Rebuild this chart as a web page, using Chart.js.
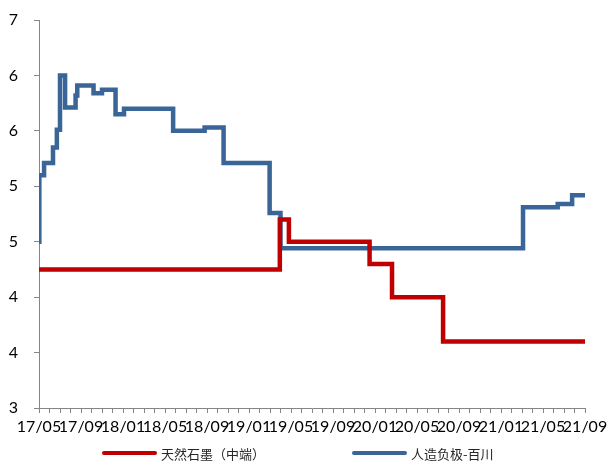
<!DOCTYPE html>
<html>
<head>
<meta charset="utf-8">
<script src="https://cdn.jsdelivr.net/npm/chart.js@4"></script>
<style>
body{margin:0;background:#fff;}
#wrap{position:relative;width:607px;height:461px;}
#legend{position:absolute;left:0;top:443px;width:607px;height:20px;font-family:"Noto Sans CJK SC",sans-serif;font-size:13px;color:#262626;}
.item{position:absolute;top:0;display:flex;align-items:center;height:20px;white-space:nowrap;}
.swatch{width:55px;height:4px;margin-right:4px;border-radius:2px;}
.fw{display:inline-block;width:13px;}
.fw.l{text-align:right;}
.fw.r{text-align:left;}
</style>
</head>
<body>
<div id="wrap">
<canvas id="chart" width="607" height="461"></canvas>
<div id="legend">
  <div class="item" style="left:102px"><span class="swatch" style="background:#C00000"></span><span>天然石墨<span class="fw l">（</span>中端<span class="fw r">）</span></span></div>
  <div class="item" style="left:352px"><span class="swatch" style="background:#3A6597"></span><span>人造负极-百川</span></div>
</div>
</div>
<script>
// ================= DATA =================
const xTickLabels = ['17/05','17/09','18/01','18/05','18/09','19/01','19/05','19/09','20/01','20/05','20/09','21/01','21/05','21/09'];

// 天然石墨（中端）: change dates and new price
const redDates = ['2017-05-01','2019-03-30','2019-04-25','2019-12-16','2020-02-19','2020-07-16','2021-09-01'];
const redValues = [4.25, 4.7, 4.5, 4.3, 4.0, 3.6, 3.6];

// 人造负极-百川
const blueDates = ['2017-05-01','2017-05-02','2017-05-16','2017-06-11','2017-06-22','2017-07-01','2017-07-16',
  '2017-08-16','2017-08-21','2017-10-07','2017-11-01','2017-12-10','2018-01-04','2018-05-25','2018-08-25',
  '2018-10-19','2019-02-28','2019-04-01','2021-03-04','2021-06-13','2021-07-25','2021-09-01'];
const blueValues = [4.5, 5.1, 5.21, 5.35, 5.51, 6.0, 5.71,
  5.82, 5.91, 5.84, 5.87, 5.65, 5.70, 5.50, 5.53,
  5.21, 4.76, 4.44, 4.81, 4.84, 4.92, 4.92];

// months since 2017/05
function monthIndex(s){
  const [y,m,d] = s.split('-').map(Number);
  const days = new Date(y, m, 0).getDate();
  return (y-2017)*12 + (m-5) + (d-1)/days;
}
function toPoints(dates, vals){
  return dates.map((d,i)=>({x:monthIndex(d), y:vals[i]}));
}

const axisColor = '#868686';
const tickFont = {family:'Lato', size:16};

// ================= CHART =================
new Chart(document.getElementById('chart'),{
  type:'line',
  data:{
    datasets:[{
      label:'天然石墨（中端）',
      data:toPoints(redDates, redValues),
      borderColor:'#C00000',
      backgroundColor:'#C00000',
      borderWidth:4.5,
      stepped:'before',
      pointRadius:0
    },{
      label:'人造负极-百川',
      data:toPoints(blueDates, blueValues),
      borderColor:'#3A6597',
      backgroundColor:'#3A6597',
      borderWidth:4.5,
      stepped:'before',
      pointRadius:0
    }]
  },
  options:{
    responsive:false,
    animation:false,
    layout:{padding:{left:0,top:20,right:22,bottom:28}},
    plugins:{legend:{display:false},tooltip:{enabled:false}},
    scales:{
      x:{
        type:'linear',
        min:0, max:52,
        grid:{drawOnChartArea:false, tickLength:5, color:axisColor},
        border:{color:axisColor, width:1},
        ticks:{
          stepSize:1, maxTicksLimit:100, autoSkip:false, maxRotation:0, padding:4,
          color:'#000', font:tickFont,
          callback:v => (v%4===0 ? xTickLabels[v/4] : '')
        },
        afterFit:s=>{ s.height = 25; s.paddingLeft = 0; s.paddingRight = 0; }
      },
      y:{
        min:3, max:6.5,
        grid:{drawOnChartArea:false, tickLength:5, color:axisColor},
        border:{color:axisColor, width:1},
        ticks:{
          stepSize:0.5, padding:16, color:'#000', font:tickFont,
          callback:v => Math.round(v)
        },
        afterFit:s=>{ s.width = 39; s.paddingTop = 0; s.paddingBottom = 0; }
      }
    }
  }
});
</script>
</body>
</html>
